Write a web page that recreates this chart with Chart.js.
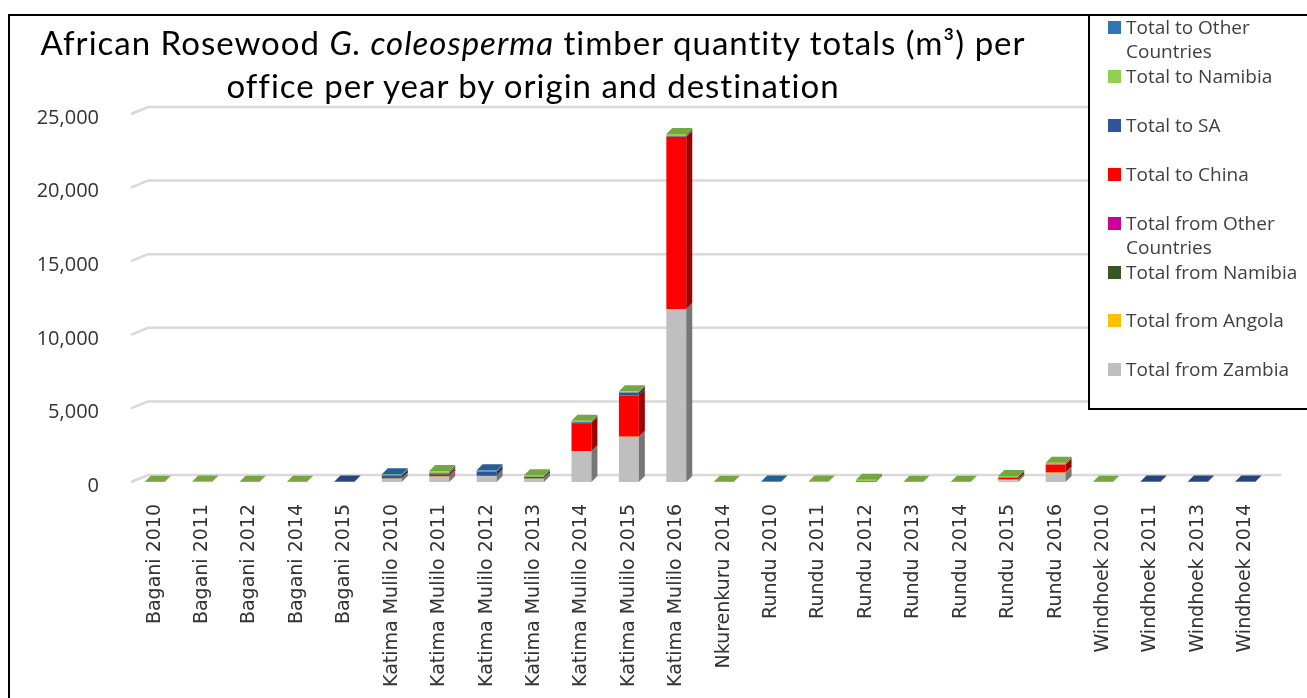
<!DOCTYPE html>
<html>
<head>
<meta charset="utf-8">
<script src="https://cdn.jsdelivr.net/npm/chart.js@4/dist/chart.umd.min.js"></script>
<style>
  html, body { margin: 0; padding: 0; background: #fff; }
  #wrap { position: relative; width: 1307px; height: 698px; overflow: hidden; }
  #frame { position: absolute; left: 8px; top: 14px; width: 1400px; height: 800px;
           border-top: 2px solid #000; border-left: 2px solid #000; }
  #title { position: absolute; left: 0; top: 21px; width: 1066px; text-align: center;
           font-family: Lato, sans-serif; font-size: 33px; letter-spacing: 1px;
           line-height: 43px; color: #000; }
  #legend { position: absolute; left: 1088px; top: 14px; width: 240px; height: 392px;
            border: 2px solid #000; background: #fff; }
  .item { position: absolute; left: 18px; width: 178px; font-family: "Open Sans", sans-serif;
          font-size: 19px; line-height: 24px; color: #404040; padding-left: 18px; }
  .item span { position: absolute; left: 0; top: 6px; width: 13px; height: 13px; }
  canvas { position: absolute; left: 0; top: 0; }
</style>
</head>
<body>
<div id="wrap">
  <canvas id="chart" width="1307" height="698"></canvas>
  <div id="frame"></div>
  <div id="title">African Rosewood <i>G. coleosperma</i> timber quantity totals (m³) per<br>office per year by origin and destination</div>
  <div id="legend"></div>
</div>
<script>
// categories (office + year)
const offices = ['Bagani 2010', 'Bagani 2011', 'Bagani 2012', 'Bagani 2014', 'Bagani 2015',
  'Katima Mulilo 2010', 'Katima Mulilo 2011', 'Katima Mulilo 2012', 'Katima Mulilo 2013',
  'Katima Mulilo 2014', 'Katima Mulilo 2015', 'Katima Mulilo 2016', 'Nkurenkuru 2014',
  'Rundu 2010', 'Rundu 2011', 'Rundu 2012', 'Rundu 2013', 'Rundu 2014', 'Rundu 2015', 'Rundu 2016',
  'Windhoek 2010', 'Windhoek 2011', 'Windhoek 2013', 'Windhoek 2014'];

// series, stacked bottom to top (m3)
const fromZambia   = [0, 0, 0, 0, 0,   200, 350, 400, 200, 2100, 3050, 11750, 0,   0, 0, 0, 0, 0, 120, 600,   0, 0, 0, 0];
const fromAngola   = [0, 15, 0, 0, 0,  20, 20, 0, 20, 0, 30, 0,               0,   0, 10, 0, 0, 0, 40, 40,    0, 0, 0, 0];
const fromNamibia  = [0, 0, 0, 0, 0,   30, 20, 20, 40, 0, 0, 0,                0,   0, 0, 30, 0, 0, 0, 0,      0, 0, 0, 0];
const fromOther    = [0, 0, 0, 0, 0,   0, 0, 0, 0, 0, 0, 0,                    0,   0, 0, 20, 0, 0, 0, 0,      0, 0, 0, 0];
const toChina      = [0, 0, 0, 0, 0,   0, 100, 50, 0, 1900, 2800, 11700,       0,   0, 0, 0, 0, 0, 150, 550,   0, 0, 0, 0];
const toSA         = [0, 0, 0, 0, 30,  200, 100, 250, 100, 60, 200, 40,        0,   0, 0, 0, 0, 0, 0, 0,       0, 30, 30, 30];
const toNamibia    = [20, 20, 20, 20, 0, 50, 150, 30, 100, 100, 80, 150,       20,  10, 30, 100, 20, 20, 100, 120, 20, 0, 0, 0];
const toOther      = [0, 0, 0, 0, 0,   30, 0, 40, 0, 0, 0, 0,                  0,   20, 0, 0, 0, 0, 0, 0,      0, 0, 0, 0];

const yTicks = [0, 5000, 10000, 15000, 20000, 25000];

const series = [
  { label: 'Total from Zambia', data: fromZambia, color: '#BFBFBF' },
  { label: 'Total from Angola', data: fromAngola, color: '#FFC000' },
  { label: 'Total from Namibia', data: fromNamibia, color: '#375623' },
  { label: 'Total from Other Countries', data: fromOther, color: '#CC0099' },
  { label: 'Total to China', data: toChina, color: '#FF0000' },
  { label: 'Total to SA', data: toSA, color: '#2F5597' },
  { label: 'Total to Namibia', data: toNamibia, color: '#92D050' },
  { label: 'Total to Other Countries', data: toOther, color: '#2E75B6' }
];

function shade(hex, f) {
  const n = parseInt(hex.slice(1), 16);
  const r = Math.round(((n >> 16) & 255) * f);
  const g = Math.round(((n >> 8) & 255) * f);
  const b = Math.round((n & 255) * f);
  return `rgb(${r},${g},${b})`;
}

// fake excel 3d look: back wall grid lines, side and top faces of the bars
const bar3d = {
  id: 'bar3d',
  beforeDatasetsDraw(chart) {
    const ctx = chart.ctx, ys = chart.scales.y, a = chart.chartArea;
    ctx.save();
    ctx.strokeStyle = '#D9D9D9';
    ctx.lineWidth = 2.5;
    ys.ticks.forEach(t => {
      const y = ys.getPixelForValue(t.value);
      ctx.beginPath();
      ctx.moveTo(a.left, y);
      ctx.lineTo(a.left + 17, y - 7);
      ctx.lineTo(a.right + 12, y - 7);
      ctx.stroke();
    });
    ctx.restore();
  },
  afterDatasetsDraw(chart) {
    const ctx = chart.ctx, dx = 6, dy = -6;
    ctx.save();
    chart.data.labels.forEach((lab, j) => {
      let top = null;
      chart.data.datasets.forEach((ds, i) => {
        if (!ds.data[j]) return;
        const el = chart.getDatasetMeta(i).data[j];
        const r = el.x + el.width / 2;
        ctx.fillStyle = shade(ds.backgroundColor, 0.62);
        ctx.beginPath();
        ctx.moveTo(r, el.y);
        ctx.lineTo(r + dx, el.y + dy);
        ctx.lineTo(r + dx, el.base + dy);
        ctx.lineTo(r, el.base);
        ctx.closePath();
        ctx.fill();
        top = { el, color: ds.backgroundColor };
      });
      if (top) {
        const el = top.el, l = el.x - el.width / 2, r = el.x + el.width / 2;
        ctx.fillStyle = shade(top.color, 0.8);
        ctx.beginPath();
        ctx.moveTo(l, el.y);
        ctx.lineTo(l + dx, el.y + dy);
        ctx.lineTo(r + dx, el.y + dy);
        ctx.lineTo(r, el.y);
        ctx.closePath();
        ctx.fill();
      }
    });
    ctx.restore();
  }
};

new Chart(document.getElementById('chart'), {
  type: 'bar',
  data: {
    labels: offices,
    datasets: series.map(s => ({
      label: s.label,
      data: s.data,
      backgroundColor: s.color,
      borderWidth: 0,
      barPercentage: 0.42,
      categoryPercentage: 1
    }))
  },
  options: {
    responsive: false,
    animation: false,
    layout: { padding: { top: 114, right: 38, left: 0, bottom: 0 } },
    plugins: {
      legend: { display: false },
      title: { display: false },
      tooltip: { enabled: false }
    },
    scales: {
      x: {
        stacked: true,
        grid: { display: false },
        border: { display: false },
        afterFit: s => { s.height = 216; },
        ticks: {
          autoSkip: false, minRotation: 90, maxRotation: 90, padding: 14,
          color: '#333', font: { family: 'DejaVu Sans', size: 19 }
        }
      },
      y: {
        stacked: true,
        min: 0, max: 25000,
        afterFit: s => { s.width = 131; },
        afterBuildTicks: s => { s.ticks = yTicks.map(v => ({ value: v })); },
        grid: { display: false },
        border: { display: false },
        ticks: {
          padding: 24, labelOffset: 4,
          color: '#333', font: { family: 'Open Sans', size: 20 },
          callback: v => v.toLocaleString('en-US')
        }
      }
    }
  },
  plugins: [bar3d]
});

// legend box, top series first like the original
const legend = document.getElementById('legend');
series.slice().reverse().forEach((s, i) => {
  const d = document.createElement('div');
  d.className = 'item';
  d.style.top = (-1 + i * 48.9) + 'px';
  d.innerHTML = `<span style="background:${s.color}"></span>${s.label}`;
  legend.appendChild(d);
});
</script>
</body>
</html>
